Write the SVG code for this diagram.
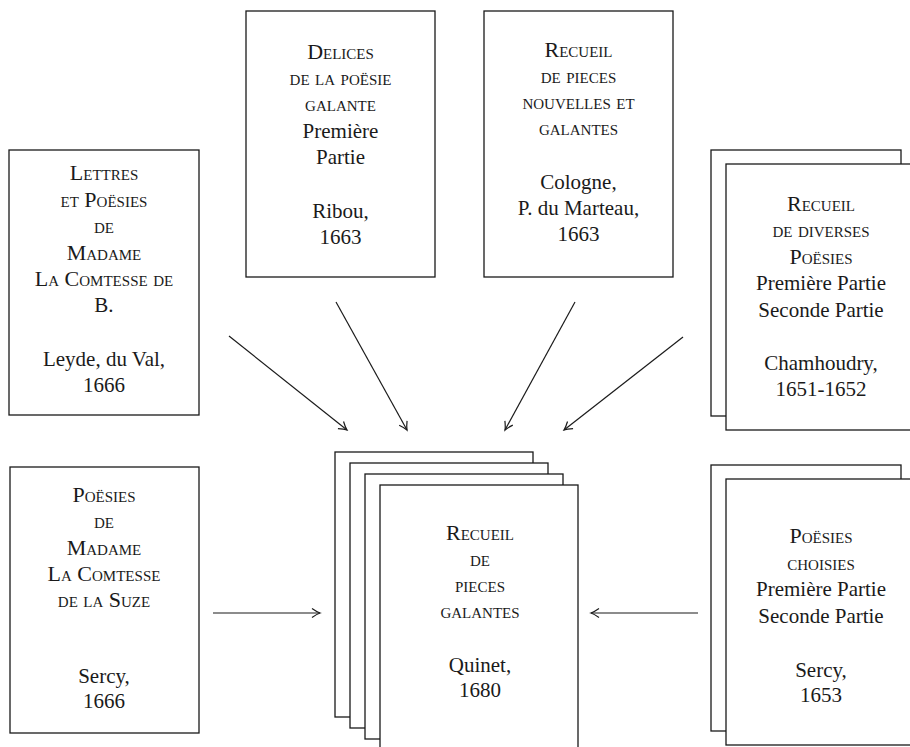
<svg xmlns="http://www.w3.org/2000/svg" width="910" height="747" viewBox="0 0 910 747">
<style>
.box{fill:#fff;stroke:#1a1a1a;stroke-width:1.3}
text{font-family:"Liberation Serif","Times New Roman",serif;font-size:21px;fill:#1a1a1a;text-anchor:middle}
.sc{font-variant:small-caps;font-size:22px}
.edge{stroke:#1a1a1a;stroke-width:1.2;fill:none;marker-end:url(#arr)}
</style>
<defs>
<marker id="arr" viewBox="-10 -6 12 12" refX="0" refY="0" markerWidth="12" markerHeight="12" markerUnits="userSpaceOnUse" orient="auto">
<path d="M-8,-4.5 Q-3,-1 0,0 Q-3,1 -8,4.5" fill="none" stroke="#1a1a1a" stroke-width="1.2"/>
</marker>
</defs>
<rect width="910" height="747" fill="#fff"/>

<g id="lettres">
<rect class="box" x="9" y="150" width="190" height="265"/>
<text class="sc" x="104" y="180">Lettres</text>
<text class="sc" x="104" y="207">et Poësies</text>
<text class="sc" x="104" y="233">de</text>
<text class="sc" x="104" y="260">Madame</text>
<text class="sc" x="104" y="286">La Comtesse de</text>
<text x="104" y="312">B.</text>
<text x="104" y="366">Leyde, du Val,</text>
<text x="104" y="392">1666</text>
</g>

<g id="delices">
<rect class="box" x="246" y="11" width="189" height="266"/>
<text class="sc" x="340.5" y="59">Delices</text>
<text class="sc" x="340.5" y="85">de la poësie</text>
<text class="sc" x="340.5" y="111">galante</text>
<text x="340.5" y="138">Première</text>
<text x="340.5" y="164">Partie</text>
<text x="340.5" y="218">Ribou,</text>
<text x="340.5" y="244">1663</text>
</g>

<g id="nouvelles">
<rect class="box" x="484" y="11" width="189" height="266"/>
<text class="sc" x="578.5" y="57">Recueil</text>
<text class="sc" x="578.5" y="83">de pieces</text>
<text class="sc" x="578.5" y="109">nouvelles et</text>
<text class="sc" x="578.5" y="135">galantes</text>
<text x="578.5" y="189">Cologne,</text>
<text x="578.5" y="215">P. du Marteau,</text>
<text x="578.5" y="241">1663</text>
</g>

<g id="diverses">
<rect class="box" x="711" y="150" width="190" height="266"/>
<rect class="box" x="726" y="164" width="190" height="266"/>
<text class="sc" x="821" y="211">Recueil</text>
<text class="sc" x="821" y="237">de diverses</text>
<text class="sc" x="821" y="264">Poësies</text>
<text x="821" y="290">Première Partie</text>
<text x="821" y="317">Seconde Partie</text>
<text x="821" y="370">Chamhoudry,</text>
<text x="821" y="396">1651-1652</text>
</g>

<g id="suze">
<rect class="box" x="10" y="467" width="189" height="266"/>
<text class="sc" x="104" y="502">Poësies</text>
<text class="sc" x="104" y="528">de</text>
<text class="sc" x="104" y="555">Madame</text>
<text class="sc" x="104" y="581">La Comtesse</text>
<text class="sc" x="104" y="607">de la Suze</text>
<text x="104" y="683">Sercy,</text>
<text x="104" y="708">1666</text>
</g>

<g id="recueil-galantes">
<rect class="box" x="335" y="452" width="198" height="265"/>
<rect class="box" x="350" y="463" width="198" height="265"/>
<rect class="box" x="365" y="474" width="198" height="265"/>
<rect class="box" x="380" y="485" width="198" height="265"/>
<text class="sc" x="480" y="540">Recueil</text>
<text class="sc" x="480" y="566">de</text>
<text class="sc" x="480" y="592">pieces</text>
<text class="sc" x="480" y="618">galantes</text>
<text x="480" y="672">Quinet,</text>
<text x="480" y="697">1680</text>
</g>

<g id="choisies">
<rect class="box" x="711" y="465" width="190" height="266"/>
<rect class="box" x="726" y="479" width="190" height="266"/>
<text class="sc" x="821" y="543">Poësies</text>
<text class="sc" x="821" y="570">choisies</text>
<text x="821" y="596">Première Partie</text>
<text x="821" y="623">Seconde Partie</text>
<text x="821" y="677">Sercy,</text>
<text x="821" y="702">1653</text>
</g>

<g id="connectors">
<line class="edge" x1="229" y1="336" x2="347" y2="430"/>
<line class="edge" x1="336" y1="302" x2="407" y2="430"/>
<line class="edge" x1="575" y1="302" x2="505" y2="430"/>
<line class="edge" x1="683" y1="337" x2="564" y2="430"/>
<line class="edge" x1="213" y1="613" x2="320" y2="613"/>
<line class="edge" x1="698" y1="613" x2="591" y2="613"/>
</g>
</svg>
